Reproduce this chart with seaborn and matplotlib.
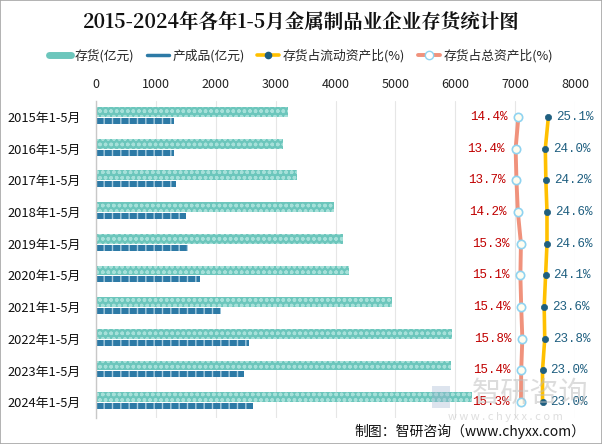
import numpy as np
import pandas as pd
import matplotlib
matplotlib.use('Agg')
import matplotlib.pyplot as plt
import seaborn as sns
from matplotlib.lines import Line2D
from matplotlib.patches import Rectangle

# ---------------- data ----------------
years = ['2015年1-5月', '2016年1-5月', '2017年1-5月', '2018年1-5月', '2019年1-5月',
         '2020年1-5月', '2021年1-5月', '2022年1-5月', '2023年1-5月', '2024年1-5月']
inventory = [3210, 3120, 3350, 3970, 4120, 4230, 4950, 5950, 5930, 6280]
finished = [1300, 1300, 1330, 1500, 1530, 1730, 2080, 2550, 2480, 2630]
ratio_current = [25.1, 24.0, 24.2, 24.6, 24.6, 24.1, 23.6, 23.8, 23.0, 23.0]
ratio_total = [14.4, 13.4, 13.7, 14.2, 15.3, 15.1, 15.4, 15.8, 15.4, 15.3]
x_ticks = [0, 1000, 2000, 3000, 4000, 5000, 6000, 7000, 8000]
series_names = ['存货(亿元)', '产成品(亿元)', '存货占流动资产比(%)', '存货占总资产比(%)']
title = '2015-2024年各年1-5月金属制品业企业存货统计图'

# ---------------- style ----------------
sns.set_theme(style='white')
plt.rcParams['font.family'] = ['Noto Sans CJK SC', 'DejaVu Sans']
plt.rcParams['hatch.linewidth'] = 1.0

TEAL = '#6CC6BC'
TEAL_H = '#A6E0D9'
BLUE = '#2D7AA6'
GOLD = '#FFC000'
DOT = '#1F5F80'
SALMON = '#F0927C'
RING = '#8FD3F0'
RED = '#C00000'

fig = plt.figure(figsize=(6.02, 4.44), dpi=100)
ax = fig.add_axes([96 / 602, 26 / 444, 479 / 602, 317 / 444])

df = pd.DataFrame({
    'year': years * 2,
    'value': inventory + finished,
    'series': [series_names[0]] * len(years) + [series_names[1]] * len(years),
})
sns.barplot(data=df, y='year', x='value', hue='series', orient='h', dodge=True,
            width=0.62, palette=[TEAL, BLUE], saturation=1, ax=ax, legend=False)

n = len(years)
for i, p in enumerate(ax.patches[:2 * n]):
    if i < n:
        p.set_facecolor(TEAL)
        p.set_edgecolor(TEAL_H)
        p.set_linewidth(0)
        p.set_hatch('ooo')
    else:
        p.set_y(p.get_y() + 0.03)
        p.set_height(0.19)
        p.set_facecolor(BLUE)
        p.set_edgecolor('#A8CCE0')
        p.set_linewidth(0)
        p.set_hatch('||')

ax.set_xlabel('')
ax.set_ylabel('')

# ---------------- ratio lines on twin axis ----------------
ax2 = ax.twiny()
pos = np.arange(n)

sns.lineplot(x=ratio_total, y=pos, sort=False, orient='y', ax=ax2, color=SALMON,
             lw=2.8, marker='o', markersize=6, markerfacecolor='#FFFDF0',
             markeredgecolor=RING, markeredgewidth=1.2)
sns.lineplot(x=ratio_current, y=pos, sort=False, orient='y', ax=ax2, color=GOLD,
             lw=2.6, marker='o', markersize=4.5, markerfacecolor=DOT,
             markeredgecolor=DOT, markeredgewidth=0.5)
ax2.set_xlim(-136.4, 34.6)
ax2.set_xticks([])
ax2.set_xlabel('')
ax2.set_ylabel('')
for s in ax2.spines.values():
    s.set_visible(False)

for i in range(n):
    ax2.annotate(f'{ratio_total[i]:.1f}%', (ratio_total[i], pos[i]), xytext=(-11, 0),
                 textcoords='offset pixels', ha='right', va='center', color=RED,
                 fontsize=9, family=['Liberation Mono', 'DejaVu Sans'])
    ax2.annotate(f'{ratio_current[i]:.1f}%', (ratio_current[i], pos[i]), xytext=(8, 0),
                 textcoords='offset pixels', ha='left', va='center', color=DOT,
                 fontsize=9, family=['Liberation Mono', 'DejaVu Sans'])

# main axis formatting (after twin creation)
ax.set_ylim(n - 0.5, -0.5)
ax.set_xlim(0, 8000)
ax.set_xticks(x_ticks)
ax.xaxis.tick_top()
ax.xaxis.set_label_position('top')
ax.tick_params(axis='x', length=0, pad=7, labelsize=9, colors='#222222',
               labeltop=True, labelbottom=False)
ax.tick_params(axis='y', length=0, pad=11, labelsize=9.3, colors='#111111')
ax.grid(axis='x', color='#E6E6E6', lw=0.8)
ax.grid(axis='y', visible=False)
ax.set_axisbelow(True)
for s in ['top', 'right', 'bottom']:
    ax.spines[s].set_visible(False)
ax.spines['left'].set_color('#C8C8C8')
ax.spines['left'].set_linewidth(1.0)

# ---------------- legend ----------------
handles = [
    Line2D([], [], color=TEAL, lw=5, solid_capstyle='round'),
    Line2D([], [], color=BLUE, lw=2.5),
    Line2D([], [], color=GOLD, lw=2.6, marker='o', markersize=4.5,
           markerfacecolor=DOT, markeredgecolor=DOT),
    Line2D([], [], color=SALMON, lw=2.8, marker='o', markersize=6,
           markerfacecolor='white', markeredgecolor=RING),
]
fig.legend(handles, series_names, loc='center', bbox_to_anchor=(0.5, 1 - 56 / 444),
           ncol=4, frameon=False, fontsize=9.2, handlelength=1.7, handletextpad=0.3,
           columnspacing=1.0)

# ---------------- title / footer / watermark ----------------
fig.text(0.5, 1 - 22 / 444, title, ha='center', va='center', fontsize=14,
         fontweight='bold', color='#111111',
         family=['Noto Serif CJK SC', 'Noto Sans CJK SC', 'DejaVu Sans'])
fig.text(585 / 602, 1 - 431 / 444, '制图：智研咨询（www.chyxx.com）', ha='right',
         va='center', fontsize=10, color='#111111')
fig.text(530 / 602, 1 - 394 / 444, '智研咨询', ha='center', va='center', fontsize=21,
         color='#BBBBBB', alpha=0.5)
fig.text(505 / 602, 1 - 417 / 444, 'w w w . c h y x x . c o m', ha='center',
         va='center', fontsize=8, color='#C8C8C8', alpha=0.6)
fig.add_artist(Rectangle((432 / 602, 1 - 408 / 444), 18 / 602, 22 / 444,
                         transform=fig.transFigure, facecolor='#9FB3CF', alpha=0.35,
                         edgecolor='none'))

fig.add_artist(Rectangle((0.0008, 0.001), 0.9984, 0.998, transform=fig.transFigure,
                         fill=False, edgecolor='#A6A6A6', lw=1.2))

fig.savefig('out.png', dpi=100)
